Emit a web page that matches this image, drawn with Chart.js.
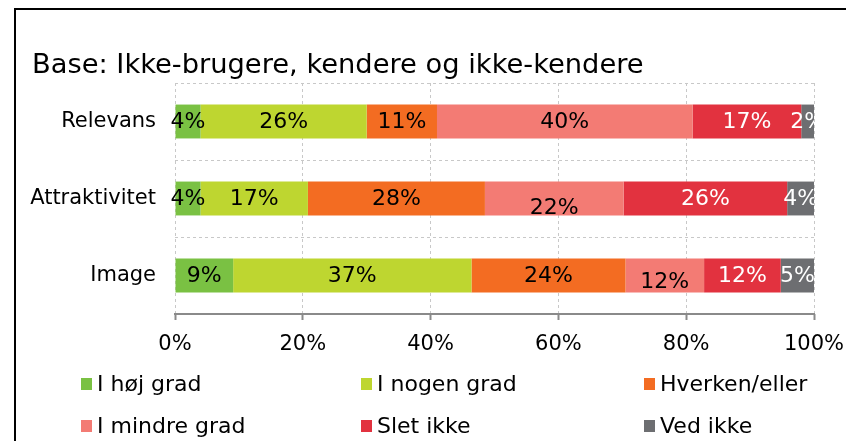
<!DOCTYPE html>
<html>
<head>
<meta charset="utf-8">
<script src="https://cdn.jsdelivr.net/npm/chart.js@4"></script>
<style>
  html, body { margin: 0; padding: 0; background: #fff; overflow: hidden; }
  #frame { position: absolute; left: 14px; top: 8px; width: 2000px; height: 2000px;
           border-left: 2px solid #000; border-top: 2px solid #000; }
  #wrap { position: absolute; left: 0; top: 0; width: 846px; height: 441px; }
</style>
</head>
<body>
<div id="frame"></div>
<div id="wrap"><canvas id="chart" width="846" height="441"></canvas></div>
<script>
var categories = ['Relevans', 'Attraktivitet', 'Image'];
var seriesNames = ['I høj grad', 'I nogen grad', 'Hverken/eller', 'I mindre grad', 'Slet ikke', 'Ved ikke'];
var hojGrad = [4, 4, 9.1];
var nogenGrad = [26, 16.8, 37.3];
var hverkenEller = [11, 27.7, 24.1];
var mindreGrad = [40, 21.7, 12.3];
var sletIkke = [17, 25.6, 12];
var vedIkke = [2, 4.2, 5.2];
var xTicks = [0, 20, 40, 60, 80, 100];

var colors = ['#7ac143', '#bed630', '#f36c22', '#f37b74', '#e2323f', '#6d6e71'];
var labelColors = ['#000', '#000', '#000', '#000', '#fff', '#fff'];
// a few labels sit a bit low in the original
var labelNudge = { '3-1': 9, '3-2': 6 };

var FONT = 'DejaVu Sans';
var allSeries = [hojGrad, nogenGrad, hverkenEller, mindreGrad, sletIkke, vedIkke];

var datasets = allSeries.map(function (vals, i) {
  return {
    label: seriesNames[i],
    data: vals,
    backgroundColor: colors[i],
    borderWidth: 0,
    categoryPercentage: 1,
    barPercentage: 0.44
  };
});

var extras = {
  id: 'extras',
  afterDatasetsDraw: function (chart) {
    var ctx = chart.ctx;
    var area = chart.chartArea;
    ctx.save();
    ctx.beginPath();
    ctx.rect(0, 0, area.right, chart.height);
    ctx.clip();
    ctx.font = '22px "' + FONT + '"';
    ctx.textAlign = 'center';
    ctx.textBaseline = 'middle';
    chart.data.datasets.forEach(function (ds, i) {
      var meta = chart.getDatasetMeta(i);
      meta.data.forEach(function (bar, j) {
        var cx = (bar.x + bar.base) / 2;
        var dy = labelNudge[i + '-' + j] || 0;
        ctx.fillStyle = labelColors[i];
        ctx.fillText(Math.round(ds.data[j]) + '%', cx, bar.y + 1 + dy);
      });
    });
    ctx.restore();
  },
  afterDraw: function (chart) {
    var ctx = chart.ctx;
    var area = chart.chartArea;
    ctx.save();
    // solid x axis line over the dashed bottom grid line
    ctx.strokeStyle = '#8a8a8a';
    ctx.lineWidth = 2;
    ctx.beginPath();
    ctx.moveTo(area.left - 1, area.bottom);
    ctx.lineTo(area.right + 1, area.bottom);
    ctx.stroke();
    // title
    ctx.fillStyle = '#000';
    ctx.font = '27.3px "' + FONT + '"';
    ctx.textAlign = 'left';
    ctx.textBaseline = 'alphabetic';
    ctx.fillText('Base: Ikke-brugere, kendere og ikke-kendere', 32, 73);
    // legend, 3 columns x 2 rows
    var colX = [81, 361, 644];
    var rowY = [384, 426];
    ctx.font = '22px "' + FONT + '"';
    ctx.textBaseline = 'middle';
    seriesNames.forEach(function (name, i) {
      var x = colX[i % 3];
      var y = rowY[Math.floor(i / 3)];
      ctx.fillStyle = colors[i];
      ctx.fillRect(x, y - 6, 11, 12);
      ctx.fillStyle = '#000';
      ctx.fillText(name, x + 16, y + 1);
    });
    ctx.restore();
  }
};

new Chart(document.getElementById('chart'), {
  type: 'bar',
  data: { labels: categories, datasets: datasets },
  plugins: [extras],
  options: {
    indexAxis: 'y',
    responsive: false,
    animation: false,
    layout: { padding: { top: 83, right: 32, bottom: 0, left: 0 } },
    plugins: {
      legend: { display: false },
      title: { display: false },
      tooltip: { enabled: false }
    },
    scales: {
      x: {
        stacked: true,
        min: 0,
        max: 100,
        afterFit: function (s) { s.height = 127; s.paddingLeft = 0; s.paddingRight = 0; },
        afterBuildTicks: function (s) { s.ticks = xTicks.map(function (v) { return { value: v }; }); },
        ticks: {
          color: '#000',
          font: { family: FONT, size: 21 },
          padding: 12,
          callback: function (v) { return v + '%'; }
        },
        grid: {
          color: '#c8c8c8',
          lineWidth: 1,
          tickColor: '#8a8a8a',
          tickWidth: 2,
          tickLength: 6,
          tickBorderDash: []
        },
        border: { display: false, dash: [3, 3] }
      },
      y: {
        stacked: true,
        afterFit: function (s) { s.width = 175; },
        ticks: {
          color: '#000',
          font: { family: FONT, size: 21 },
          padding: 19
        },
        grid: {
          offset: true,
          color: '#c8c8c8',
          lineWidth: 1,
          drawTicks: false
        },
        border: { display: false, dash: [3, 3] }
      }
    }
  }
});
</script>
</body>
</html>
